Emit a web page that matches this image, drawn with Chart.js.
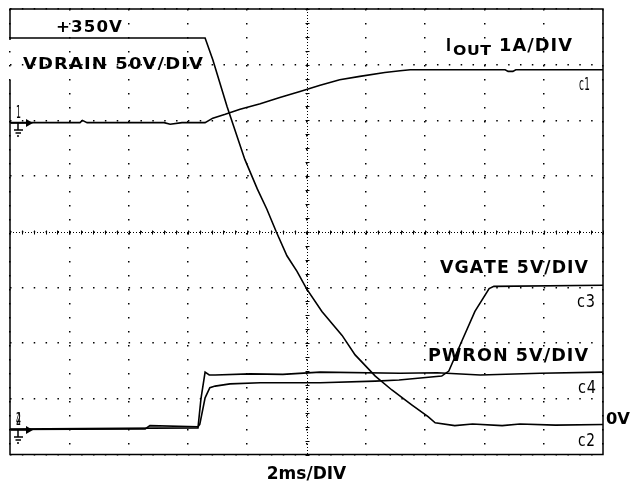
<!DOCTYPE html>
<html>
<head>
<meta charset="utf-8">
<script src="https://cdn.jsdelivr.net/npm/chart.js@4.4.0/dist/chart.umd.min.js"></script>
<style>
  html, body { margin: 0; padding: 0; background: #fff; }
  #wrap { width: 644px; height: 487px; }
</style>
</head>
<body>
<div id="wrap"><canvas id="scope"></canvas></div>
<script>
// -------- TRACE DATA --------
// time in divisions (2ms/DIV), level in divisions counted from the bottom of the screen
const iOutTime = [0, 1.18, 1.22, 1.3, 2.6, 2.7, 2.9, 3.29, 3.42, 3.63, 3.88, 4.22, 4.55, 4.89, 5.23, 5.56, 5.9, 6.32, 6.58, 6.75, 8.35, 8.4, 8.48, 8.53, 10];
const iOutLevel = [5.96, 5.96, 6.0, 5.96, 5.96, 5.93, 5.96, 5.96, 6.04, 6.11, 6.2, 6.3, 6.41, 6.52, 6.63, 6.73, 6.79, 6.86, 6.89, 6.91, 6.91, 6.88, 6.88, 6.91, 6.91];

const vDrainTime = [0, 3.29, 3.42, 3.66, 3.96, 4.17, 4.33, 4.49, 4.67, 4.84, 5.0, 5.26, 5.6, 5.82, 6.16, 6.44, 6.78, 7.05, 7.17, 7.5, 7.8, 8.3, 8.6, 9.2, 10];
const vDrainLevel = [7.48, 7.48, 7.09, 6.25, 5.3, 4.77, 4.41, 4.0, 3.57, 3.29, 2.98, 2.57, 2.14, 1.79, 1.41, 1.16, 0.89, 0.68, 0.57, 0.52, 0.55, 0.52, 0.55, 0.53, 0.54];

const vGateTime = [0, 2.28, 2.36, 3.17, 3.2, 3.29, 3.37, 3.46, 3.71, 4.22, 5.23, 6.16, 6.56, 7.28, 7.4, 7.62, 7.84, 8.08, 8.16, 10];
const vGateLevel = [0.45, 0.46, 0.52, 0.5, 0.54, 1.02, 1.2, 1.23, 1.27, 1.29, 1.29, 1.32, 1.34, 1.41, 1.5, 2.04, 2.57, 2.98, 3.02, 3.04];

const pwrOnTime = [0, 3.17, 3.22, 3.29, 3.36, 3.46, 4.05, 4.6, 5.23, 6.58, 7.2, 7.93, 8.94, 10];
const pwrOnLevel = [0.46, 0.48, 1.0, 1.48, 1.43, 1.43, 1.45, 1.44, 1.48, 1.46, 1.47, 1.43, 1.46, 1.48];

const xDivisions = 10;
const yDivisions = 8;

function toPoints(ts, vs) {
  return ts.map((t, i) => ({ x: t, y: vs[i] }));
}

function trace(label, ts, vs) {
  return {
    label: label,
    data: toPoints(ts, vs),
    borderColor: "#000",
    borderWidth: 1.6,
    pointRadius: 0,
    tension: 0,
    fill: false
  };
}

// draws text with a fixed letter gap, then stretched to cover a given width
function fitText(ctx, text, x, y, width, gap) {
  gap = gap || 0;
  const chars = [...text];
  const widths = chars.map((c) => ctx.measureText(c).width);
  const total = widths.reduce((a, b) => a + b, 0) + gap * (chars.length - 1);
  ctx.save();
  ctx.translate(x, y);
  ctx.scale(width / total, 1);
  let cx = 0;
  chars.forEach((c, i) => {
    ctx.fillText(c, cx, 0);
    cx += widths[i] + gap;
  });
  ctx.restore();
}

function groundMarker(ctx, y, digits, x0) {
  ctx.save();
  ctx.strokeStyle = "#000";
  ctx.fillStyle = "#000";
  ctx.lineWidth = 1.5;
  ctx.beginPath();
  ctx.moveTo(x0 + 1, y);
  ctx.lineTo(x0 + 17, y);
  ctx.stroke();
  ctx.beginPath();
  ctx.moveTo(x0 + 16, y - 4);
  ctx.lineTo(x0 + 23, y);
  ctx.lineTo(x0 + 16, y + 4);
  ctx.closePath();
  ctx.fill();
  ctx.beginPath();
  ctx.moveTo(x0 + 8, y);
  ctx.lineTo(x0 + 8, y + 7);
  ctx.moveTo(x0 + 4, y + 7);
  ctx.lineTo(x0 + 13, y + 7);
  ctx.moveTo(x0 + 5.5, y + 10);
  ctx.lineTo(x0 + 11, y + 10);
  ctx.moveTo(x0 + 7, y + 13);
  ctx.lineTo(x0 + 9, y + 13);
  ctx.stroke();
  ctx.font = "18px 'DejaVu Sans', sans-serif";
  digits.forEach((d) => fitText(ctx, d, x0 + 6, y - 5, 5));
  ctx.restore();
}

// -------- SCOPE OVERLAY --------
const scopeOverlay = {
  id: "scopeOverlay",
  afterDraw(chart) {
    const ctx = chart.ctx;
    const a = chart.chartArea;
    const xs = chart.scales.x;
    const ys = chart.scales.y;
    ctx.save();

    // center cross, dense dots with small ticks
    const cx = Math.round(xs.getPixelForValue(xDivisions / 2)) + 0.5;
    const cy = Math.round(ys.getPixelForValue(yDivisions / 2)) + 0.5;
    ctx.strokeStyle = "#000";
    ctx.lineWidth = 1;
    ctx.setLineDash([1, 2]);
    ctx.beginPath();
    ctx.moveTo(a.left, cy);
    ctx.lineTo(a.right, cy);
    ctx.moveTo(cx, a.top);
    ctx.lineTo(cx, a.bottom);
    ctx.stroke();
    ctx.setLineDash([]);
    ctx.beginPath();
    for (let t = 0; t <= xDivisions; t += 0.2) {
      const px = Math.round(xs.getPixelForValue(t)) + 0.5;
      ctx.moveTo(px, cy - 2);
      ctx.lineTo(px, cy + 2);
    }
    for (let v = 0; v <= yDivisions; v += 0.25) {
      const py = Math.round(ys.getPixelForValue(v)) + 0.5;
      ctx.moveTo(cx - 2, py);
      ctx.lineTo(cx + 2, py);
    }
    ctx.stroke();

    // screen frame (left edge broken behind the VDRAIN label)
    ctx.lineWidth = 1.5;
    ctx.beginPath();
    ctx.moveTo(a.left, 40);
    ctx.lineTo(a.left, a.top);
    ctx.lineTo(a.right, a.top);
    ctx.lineTo(a.right, a.bottom);
    ctx.lineTo(a.left, a.bottom);
    ctx.lineTo(a.left, 80);
    ctx.stroke();

    // channel labels
    ctx.fillStyle = "#000";
    ctx.textBaseline = "alphabetic";
    ctx.font = "bold 15px 'DejaVu Sans', sans-serif";
    fitText(ctx, "+350V", 56, 32, 66, 1);
    ctx.font = "bold 16px 'DejaVu Sans', sans-serif";
    fitText(ctx, "VDRAIN 50V/DIV", 23, 69, 180, 1);
    ctx.font = "bold 17px 'DejaVu Sans', sans-serif";
    fitText(ctx, "I", 446, 51, 5);
    fitText(ctx, "1A/DIV", 499, 51, 73, 1);
    ctx.font = "bold 14px 'DejaVu Sans', sans-serif";
    fitText(ctx, "OUT", 453, 55, 38, 0.5);
    ctx.font = "bold 17px 'DejaVu Sans', sans-serif";
    fitText(ctx, "VGATE 5V/DIV", 440, 273, 148, 1);
    fitText(ctx, "PWRON 5V/DIV", 428, 361, 160, 1);
    ctx.font = "bold 16px 'DejaVu Sans', sans-serif";
    fitText(ctx, "0V", 606, 424, 24);

    ctx.font = "18px 'DejaVu Sans', sans-serif";
    fitText(ctx, "c1", 579, 90, 11, 1);
    fitText(ctx, "c3", 577, 307, 18, 1);
    fitText(ctx, "c4", 578, 393, 18, 1);
    fitText(ctx, "c2", 578, 446, 17, 1);

    // ground reference markers
    groundMarker(ctx, Math.round(ys.getPixelForValue(iOutLevel[0])), ["1"], a.left);
    groundMarker(ctx, Math.round(ys.getPixelForValue(vGateLevel[0])), ["2", "4"], a.left);
    ctx.restore();
  }
};

new Chart(document.getElementById("scope"), {
  type: "line",
  data: {
    datasets: [
      trace("IOUT", iOutTime, iOutLevel),
      trace("VDRAIN", vDrainTime, vDrainLevel),
      trace("VGATE", vGateTime, vGateLevel),
      trace("PWRON", pwrOnTime, pwrOnLevel)
    ]
  },
  options: {
    responsive: true,
    maintainAspectRatio: false,
    animation: false,
    layout: { padding: { left: 10, top: 9, right: 41, bottom: 0 } },
    plugins: {
      legend: { display: false },
      tooltip: { enabled: false }
    },
    scales: {
      x: {
        type: "linear",
        min: 0,
        max: xDivisions,
        ticks: { display: false, stepSize: 1 },
        grid: { color: "#000", lineWidth: 1.5, drawTicks: false, tickLength: 0 },
        border: { display: false, dash: [1.5, 12.5] },
        title: {
          display: true,
          text: "2ms/DIV",
          color: "#000",
          font: { family: "'DejaVu Sans', sans-serif", size: 17, weight: "bold" },
          padding: { top: 10, bottom: 2 }
        }
      },
      y: {
        type: "linear",
        min: 0,
        max: yDivisions,
        ticks: { display: false, stepSize: 1 },
        grid: { color: "#000", lineWidth: 1.5, drawTicks: false, tickLength: 0 },
        border: { display: false, dash: [1.5, 10.36] }
      }
    }
  },
  plugins: [scopeOverlay]
});
</script>
</body>
</html>
